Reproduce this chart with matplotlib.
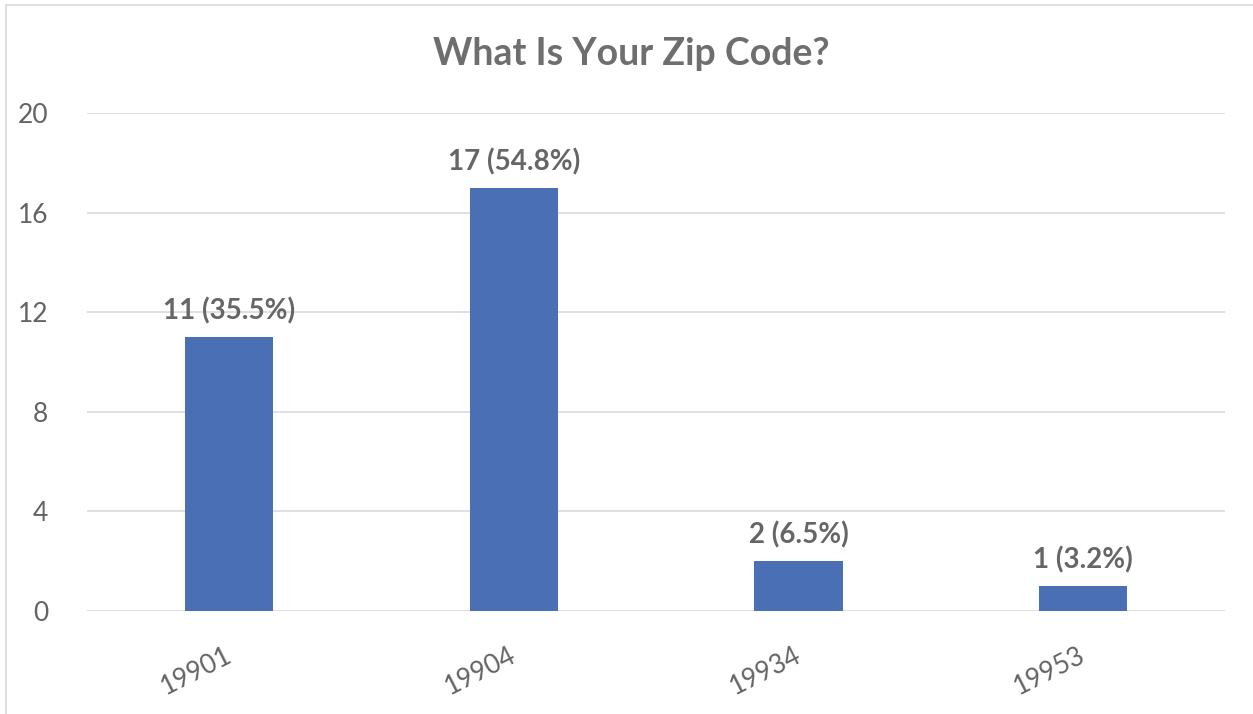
import matplotlib
matplotlib.use('Agg')
import matplotlib.pyplot as plt
import matplotlib.transforms as mtransforms
from matplotlib.patches import Rectangle

# survey answers
zip_codes = ['19901', '19904', '19934', '19953']
counts = [11, 17, 2, 1]
percents = [35.5, 54.8, 6.5, 3.2]

plt.rcParams['font.family'] = ['Lato', 'DejaVu Sans']
grey = '#636363'

fig = plt.figure(figsize=(12.53, 7.14), dpi=100)
ax = fig.add_axes([0.0694, 0.1443, 0.9086, 0.6974])

x = range(len(zip_codes))
ax.bar(x, counts, width=0.31, color='#4A6FB5', zorder=3)

for i, (c, p) in enumerate(zip(counts, percents)):
    ax.annotate('%d (%.1f%%)' % (c, p), (i, c), xytext=(0, 9),
                textcoords='offset points', ha='center', va='bottom',
                fontsize=20, fontweight='bold', color='#666666')

ax.set_xlim(-0.5, 3.5)
ax.set_ylim(0, 20)
ax.set_yticks([0, 4, 8, 12, 16, 20])
ax.set_xticks(list(x))
ax.set_xticklabels(zip_codes, rotation=27, ha='right', rotation_mode='anchor',
                   fontsize=19, color=grey)
ax.tick_params(axis='y', labelsize=19, labelcolor=grey, length=0, pad=28)
ax.tick_params(axis='x', length=0, pad=23)
# nudge rotated labels a bit to the left
shift = mtransforms.ScaledTranslation(-5 / 100, 0, fig.dpi_scale_trans)
for lbl in ax.get_xticklabels():
    lbl.set_transform(lbl.get_transform() + shift)
ax.grid(axis='y', color='#D9D9D9', linewidth=1.2, zorder=0)
for s in ax.spines.values():
    s.set_visible(False)

fig.text(0.504, 0.925, 'What Is Your Zip Code?', ha='center', va='center',
         fontsize=27, fontweight='bold', color='#6E6E6E')

# chart border
fig.patches.append(Rectangle((6 / 1253, -0.1), 1.2, 1.1 - 5 / 714,
                             transform=fig.transFigure, fill=False,
                             edgecolor='#D9D9D9', linewidth=1.2))

fig.savefig('out.png', dpi=100)
